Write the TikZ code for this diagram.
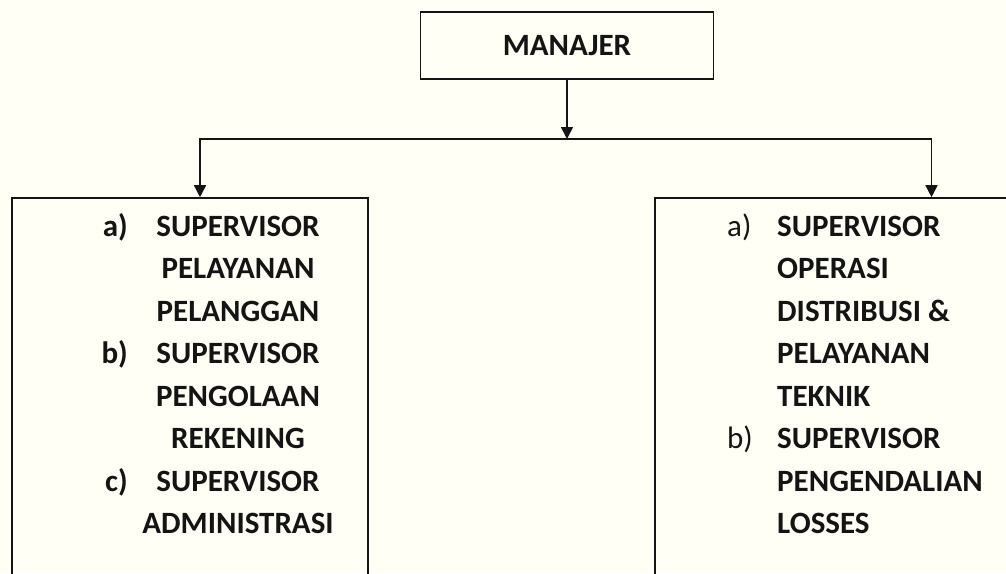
\documentclass[tikz,border=0pt]{standalone}
\usepackage{fontspec}
\setmainfont{Carlito}
\usepackage{xcolor}
\usetikzlibrary{arrows.meta,positioning,calc}
\definecolor{paper}{HTML}{FFFFF6}
\definecolor{ink}{HTML}{141414}

\begin{document}
\begin{tikzpicture}[
    x=1pt, y=-1pt,
    box/.style={rectangle, draw=ink, line width=1.6pt, inner sep=0pt},
    txt/.style={font=\fontsize{31}{36}\selectfont\bfseries, text=ink, inner sep=0pt},
    lbl/.style={font=\fontsize{31}{36}\selectfont, text=ink, inner sep=0pt},
    arr/.style={-{Triangle[length=12pt, width=12pt]}, line width=1.6pt, draw=ink}
]
    \useasboundingbox (0,0) rectangle (1006,573);
    \fill[paper] (0,0) rectangle (1006,573);
    \clip (0,0) rectangle (1006,573);

    % Top box
    \node[box, minimum width=293pt, minimum height=67pt, txt] (manajer) at (567,45.5) {MANAJER};

    % Unit boxes (run past the lower edge)
    \node[box, minimum width=356pt, minimum height=442pt] (leftbox) at (190,419) {};
    \node[box, minimum width=553pt, minimum height=442pt] (rightbox) at (931.5,419) {};

    % Left box content
    \foreach \line [count=\i from 0] in {SUPERVISOR, PELAYANAN, PELANGGAN, SUPERVISOR, PENGOLAAN, REKENING, SUPERVISOR, ADMINISTRASI}
        \node[txt, anchor=base] (left\i) at (238,{236+42.5*\i}) {\line};
    \foreach \tag/\i in {a)/0, b)/3, c)/6}
        \node[txt, anchor=base east] (lefttag\i) at (128,{236+42.5*\i}) {\tag};

    % Right box content
    \foreach \line [count=\i from 0] in {SUPERVISOR, OPERASI, DISTRIBUSI \&, PELAYANAN, TEKNIK, SUPERVISOR, PENGENDALIAN, LOSSES}
        \node[txt, anchor=base west] (right\i) at (777,{236+42.5*\i}) {\line};
    \foreach \tag/\i in {a)/0, b)/5}
        \node[lbl, anchor=base west] (righttag\i) at (727,{236+42.5*\i}) {\tag};

    % Connectors
    \coordinate (hub) at (567,139);
    \draw[arr] (manajer.south) -- (hub);
    \draw[arr] (hub) -| ([xshift=10pt]leftbox.north);
    \draw[arr] (hub) -| (rightbox.north);

\end{tikzpicture}
\end{document}
